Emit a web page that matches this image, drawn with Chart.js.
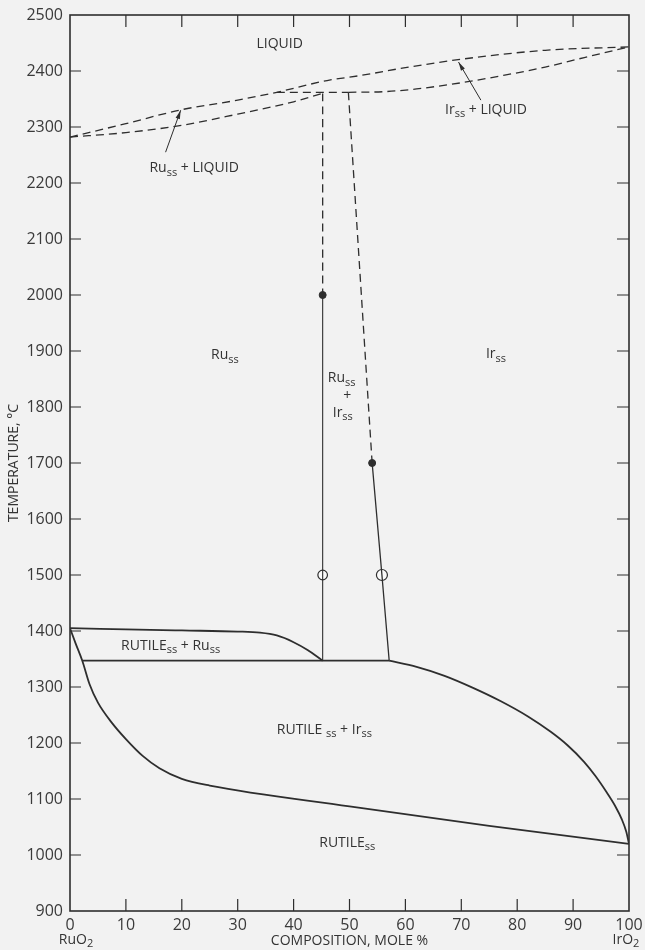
<!DOCTYPE html>
<html>
<head>
<meta charset="utf-8">
<style>
html, body { margin: 0; padding: 0; background: #f2f2f2; }
#wrap { width: 645px; height: 950px; }
</style>
<script src="https://cdn.jsdelivr.net/npm/chart.js@4/dist/chart.umd.min.js"></script>
</head>
<body>
<div id="wrap"><canvas id="chart"></canvas></div>
<script>
const ink = "#2e2e2e";
const face = "'Open Sans', 'DejaVu Sans', sans-serif";

// tick values
const xTickValues = [0, 10, 20, 30, 40, 50, 60, 70, 80, 90, 100];
const yTickValues = [900, 1000, 1100, 1200, 1300, 1400, 1500, 1600, 1700, 1800, 1900, 2000, 2100, 2200, 2300, 2400, 2500];

// liquidus and solidus (dashed)
const liquidusX = [0, 10, 20, 30, 37, 46, 52, 60, 70, 85, 100];
const liquidusT = [2282, 2306, 2331, 2348, 2362, 2383, 2392, 2406, 2421, 2437, 2443];
const ruSolidusX = [0, 10, 20, 30, 40, 45.2];
const ruSolidusT = [2282, 2290, 2303, 2323, 2345, 2360];
const irSolidusX = [49.8, 56, 62, 70, 78, 85, 92, 100];
const irSolidusT = [2362, 2363, 2368, 2379, 2393, 2407, 2424, 2443];
const peritecticX = [37, 49.8];
const peritecticT = [2362, 2362];

// Ru_ss / Ir_ss boundaries
const ruDashX = [45.2, 45.2];
const ruDashT = [2360, 2000];
const ruSolidX = [45.2, 45.2];
const ruSolidT = [2000, 1347];
const irDashX = [49.8, 54.05];
const irDashT = [2362, 1700];
const irSolidX = [54.05, 55.8, 57.1];
const irSolidT = [1700, 1500, 1347];

// rutile region
const eutectoidX = [2.2, 57.1];
const eutectoidT = [1347, 1347];
const rutRuTopX = [0, 10, 20, 30, 34, 37, 40, 42.5, 45.2];
const rutRuTopT = [1405, 1403, 1401, 1399, 1397, 1392, 1380, 1366, 1347];
const leftSolvusX = [0, 1, 2.2, 3.5, 5, 7.5, 10, 13, 16, 20, 25, 50, 75, 100];
const leftSolvusT = [1405, 1378, 1347, 1305, 1272, 1236, 1207, 1177, 1155, 1136, 1124, 1087, 1052, 1020];
const rightSolvusX = [57.1, 62, 67, 72, 77, 82, 86, 89, 92, 94, 96, 97.5, 98.7, 99.5, 100];
const rightSolvusT = [1347, 1336, 1320, 1299, 1275, 1247, 1220, 1196, 1166, 1141, 1112, 1088, 1064, 1042, 1020];

// experimental points
const filledX = [45.2, 54.05];
const filledT = [2000, 1700];
const openX = [45.2, 55.8];
const openT = [1500, 1500];

// label arrows
const ruArrowX = [17.1, 19.8];
const ruArrowT = [2255, 2330];
const irArrowX = [73.5, 69.5];
const irArrowT = [2348, 2416];

const pts = (xs, ts) => xs.map((x, i) => ({ x: x, y: ts[i] }));

const line = (xs, ts, opts) => Object.assign({
	data: pts(xs, ts),
	showLine: true,
	borderColor: ink,
	borderWidth: 1.6,
	pointRadius: 0,
	fill: false,
	cubicInterpolationMode: "monotone"
}, opts || {});

const dashed = { borderDash: [8, 5], borderWidth: 1.3 };

const labels = [
	{ x: 37.5, y: 2449, parts: [["LIQUID"]] },
	{ x: 22.2, y: 2226, parts: [["Ru"], ["ss", 1], [" + LIQUID"]] },
	{ x: 74.4, y: 2330, parts: [["Ir"], ["ss", 1], [" + LIQUID"]] },
	{ x: 27.7, y: 1892, parts: [["Ru"], ["ss", 1]] },
	{ x: 76.2, y: 1894, parts: [["Ir"], ["ss", 1]] },
	{ x: 48.6, y: 1851, parts: [["Ru"], ["ss", 1]] },
	{ x: 49.6, y: 1819, parts: [["+"]] },
	{ x: 48.8, y: 1789, parts: [["Ir"], ["ss", 1]] },
	{ x: 18.0, y: 1373, parts: [["RUTILE"], ["ss", 1], [" + Ru"], ["ss", 1]] },
	{ x: 45.5, y: 1223, parts: [["RUTILE "], ["ss", 1], [" + Ir"], ["ss", 1]] },
	{ x: 49.6, y: 1021, parts: [["RUTILE"], ["ss", 1]] }
];

const drawParts = (ctx, parts, cx, cy, size) => {
	const main = `${size}px ${face}`;
	const sub = `${size - 3}px ${face}`;
	let w = 0;
	parts.forEach(p => { ctx.font = p[1] ? sub : main; w += ctx.measureText(p[0]).width; });
	let x = cx - w / 2;
	ctx.textBaseline = "middle";
	ctx.textAlign = "left";
	parts.forEach(p => {
		ctx.font = p[1] ? sub : main;
		ctx.fillText(p[0], x, p[1] ? cy + 4 : cy);
		x += ctx.measureText(p[0]).width;
	});
};

const diagram = {
	id: "diagram",
	beforeDraw(chart) {
		const ctx = chart.ctx;
		ctx.save();
		ctx.fillStyle = "#f2f2f2";
		ctx.fillRect(0, 0, chart.width, chart.height);
		ctx.restore();
	},
	beforeDatasetsDraw(chart) {
		const { ctx, chartArea: a, scales } = chart;
		ctx.save();
		ctx.strokeStyle = ink;
		ctx.lineWidth = 1.6;
		ctx.strokeRect(a.left, a.top, a.right - a.left, a.bottom - a.top);
		ctx.lineWidth = 1.2;
		ctx.beginPath();
		xTickValues.slice(1, -1).forEach(v => {
			const px = scales.x.getPixelForValue(v);
			ctx.moveTo(px, a.top); ctx.lineTo(px, a.top + 12);
			ctx.moveTo(px, a.bottom); ctx.lineTo(px, a.bottom - 12);
		});
		yTickValues.slice(1, -1).forEach(v => {
			const py = scales.y.getPixelForValue(v);
			ctx.moveTo(a.left, py); ctx.lineTo(a.left + 11, py);
			ctx.moveTo(a.right, py); ctx.lineTo(a.right - 12, py);
		});
		ctx.stroke();
		ctx.restore();
	},
	afterDatasetsDraw(chart) {
		const { ctx, scales } = chart;
		ctx.save();
		ctx.fillStyle = ink;
		ctx.strokeStyle = ink;
		// arrow heads
		[[ruArrowX, ruArrowT], [irArrowX, irArrowT]].forEach(([xs, ts]) => {
			const x0 = scales.x.getPixelForValue(xs[0]), y0 = scales.y.getPixelForValue(ts[0]);
			const x1 = scales.x.getPixelForValue(xs[1]), y1 = scales.y.getPixelForValue(ts[1]);
			const ang = Math.atan2(y1 - y0, x1 - x0);
			ctx.beginPath();
			ctx.moveTo(x1, y1);
			ctx.lineTo(x1 - 9 * Math.cos(ang - 0.25), y1 - 9 * Math.sin(ang - 0.25));
			ctx.lineTo(x1 - 9 * Math.cos(ang + 0.25), y1 - 9 * Math.sin(ang + 0.25));
			ctx.closePath();
			ctx.fill();
		});
		// region labels
		ctx.fillStyle = "#333";
		labels.forEach(l => {
			drawParts(ctx, l.parts, scales.x.getPixelForValue(l.x), scales.y.getPixelForValue(l.y), 14);
		});
		// end members under the x axis
		const by = scales.x.bottom - 10;
		drawParts(ctx, [["RuO"], ["2", 1]], scales.x.getPixelForValue(0) + 6, by, 14);
		drawParts(ctx, [["IrO"], ["2", 1]], scales.x.getPixelForValue(100) - 3, by, 14);
		ctx.restore();
	}
};

new Chart(document.getElementById("chart"), {
	type: "scatter",
	data: {
		datasets: [
			line(liquidusX, liquidusT, dashed),
			line(ruSolidusX, ruSolidusT, dashed),
			line(irSolidusX, irSolidusT, dashed),
			line(peritecticX, peritecticT, dashed),
			line(ruDashX, ruDashT, dashed),
			line(irDashX, irDashT, dashed),
			line(ruSolidX, ruSolidT, { borderWidth: 1.1 }),
			line(irSolidX, irSolidT, { borderWidth: 1.3, cubicInterpolationMode: "default", tension: 0 }),
			line(eutectoidX, eutectoidT, { borderWidth: 1.8 }),
			line(rutRuTopX, rutRuTopT, { borderWidth: 1.8 }),
			line(leftSolvusX, leftSolvusT, { borderWidth: 1.8 }),
			line(rightSolvusX, rightSolvusT, { borderWidth: 1.8 }),
			line(ruArrowX, ruArrowT, { borderWidth: 1, cubicInterpolationMode: "default", tension: 0 }),
			line(irArrowX, irArrowT, { borderWidth: 1, cubicInterpolationMode: "default", tension: 0 }),
			{
				data: pts(filledX, filledT),
				pointRadius: 3.5,
				pointBackgroundColor: ink,
				pointBorderColor: ink,
				showLine: false
			},
			{
				data: pts(openX, openT),
				pointRadius: [4.8, 5.5],
				pointBackgroundColor: "#fafafa",
				pointBorderColor: ink,
				pointBorderWidth: 1.2,
				showLine: false
			}
		]
	},
	options: {
		responsive: true,
		maintainAspectRatio: false,
		animation: false,
		events: [],
		layout: { padding: { top: 15, right: 16, left: 0, bottom: 0 } },
		plugins: {
			legend: { display: false },
			tooltip: { enabled: false }
		},
		scales: {
			x: {
				type: "linear",
				min: 0,
				max: 100,
				afterBuildTicks: s => { s.ticks = xTickValues.map(v => ({ value: v })); },
				afterFit: s => { s.height = 39; s.paddingLeft = 0; s.paddingRight = 0; },
				grid: { display: false, drawTicks: false },
				border: { display: false },
				ticks: {
					color: "#3a3a3a",
					font: { family: face, size: 16 },
					padding: 5,
					maxRotation: 0,
					callback: v => String(v)
				},
				title: {
					display: true,
					text: "COMPOSITION, MOLE %",
					color: "#333",
					font: { family: face, size: 14 },
					padding: { top: 0, bottom: 1 }
				}
			},
			y: {
				type: "linear",
				min: 900,
				max: 2500,
				afterBuildTicks: s => { s.ticks = yTickValues.map(v => ({ value: v })); },
				afterFit: s => { s.width = 70; s.paddingTop = 0; s.paddingBottom = 0; },
				grid: { display: false, drawTicks: false },
				border: { display: false },
				ticks: {
					color: "#3a3a3a",
					font: { family: face, size: 16 },
					padding: 7,
					callback: v => String(v)
				},
				title: {
					display: true,
					text: "TEMPERATURE, °C",
					color: "#333",
					font: { family: face, size: 14 },
					padding: { top: 6, bottom: 0 }
				}
			}
		}
	},
	plugins: [diagram]
});
</script>
</body>
</html>
